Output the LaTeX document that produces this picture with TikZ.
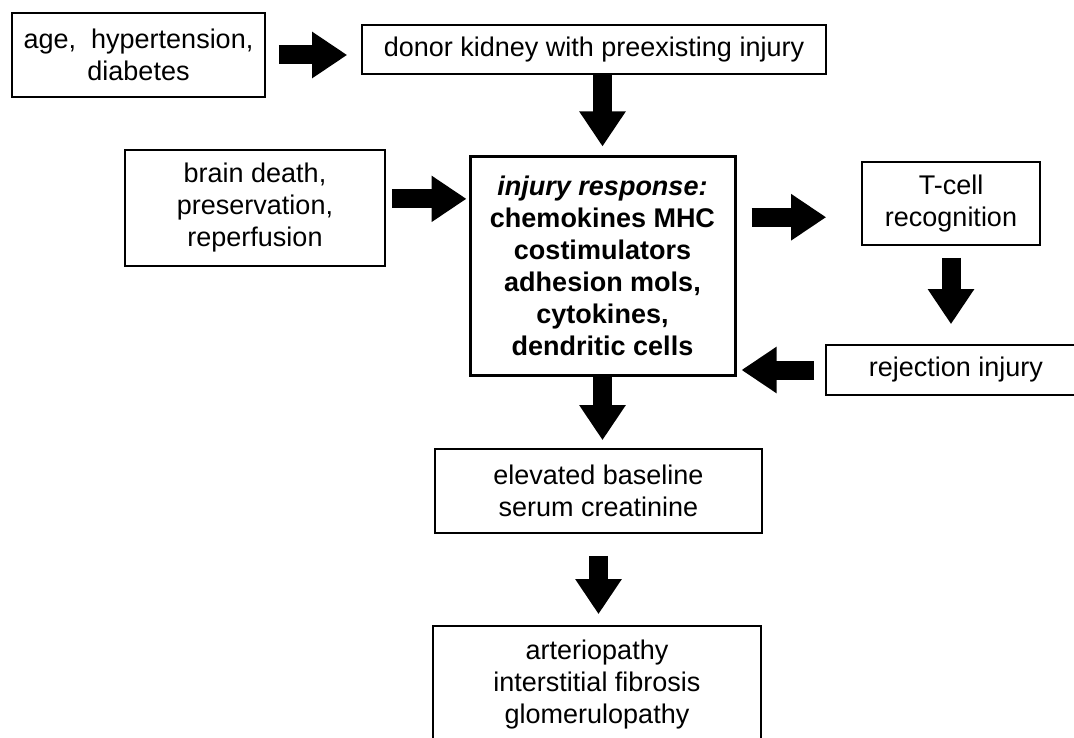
\documentclass[tikz,border=0pt]{standalone}
\usepackage{fontspec}
\setmainfont{Liberation Sans}
\usetikzlibrary{arrows.meta}
\tikzset{
	kasten/.style={draw, line width=1.6pt, align=center, inner sep=0pt, font=\fontsize{27}{32}\selectfont},
	hauptkasten/.style={kasten, line width=3pt, font=\fontsize{27}{32}\selectfont\bfseries},
	pfeil/.style={line width=19pt, -{Triangle[width=44pt,length=35pt]}}
}
\begin{document}
\begin{tikzpicture}[x=1pt,y=-1pt]
\useasboundingbox (0,0) rectangle (1074,738);
% Kaesten
\node[kasten, minimum width=253pt, minimum height=84pt] (alter) at (138.5,55) {age,\ \ hypertension,\\diabetes};
\node[kasten, minimum width=464pt, minimum height=49pt] (spender) at (594,49.5) {donor kidney with preexisting injury};
\node[kasten, minimum width=260pt, minimum height=116pt] (hirntod) at (255,208) {brain death,\\preservation,\\reperfusion};
\node[hauptkasten, minimum width=265pt, minimum height=218pt] (zentrum) at (602.5,266) {\textit{injury response:}\\chemokines MHC\\costimulators\\adhesion mols,\\cytokines,\\dendritic cells};
\node[kasten, minimum width=178pt, minimum height=83pt] (tzelle) at (951,203.5) {T-cell\\recognition};
\node[kasten, minimum width=260pt, minimum height=50pt] (abstossung) at (956,370) {rejection injury};
\node[kasten, minimum width=327pt, minimum height=84pt] (kreatinin) at (598.5,491) {elevated baseline\\serum creatinine};
\node[kasten, minimum width=328pt, minimum height=118pt] (folgen) at (597,685) {arteriopathy\\interstitial fibrosis\\glomerulopathy};
% Pfeile
\draw[pfeil, shorten <=13pt, shorten >=14pt] (alter.east) -- (alter.east -| spender.west);
\draw[pfeil, shorten >=9pt] (zentrum.north |- spender.south) -- (zentrum.north);
\draw[pfeil, shorten <=6pt, shorten >=2pt] (hirntod.4) -- (hirntod.4 -| zentrum.west);
\draw[pfeil, shorten <=15pt, shorten >=35pt] (zentrum.20) -- (zentrum.20 -| tzelle.west);
\draw[pfeil, shorten <=12pt, shorten >=20pt] (tzelle.south) -- (tzelle.south |- abstossung.north);
\draw[pfeil, shorten <=11pt, shorten >=5pt] (abstossung.west) -- (abstossung.west -| zentrum.east);
\draw[pfeil, shorten >=8pt] (zentrum.south) -- (zentrum.south |- kreatinin.north);
\draw[pfeil, shorten <=22pt, shorten >=11pt] (kreatinin.south) -- (kreatinin.south |- folgen.north);
\end{tikzpicture}
\end{document}
